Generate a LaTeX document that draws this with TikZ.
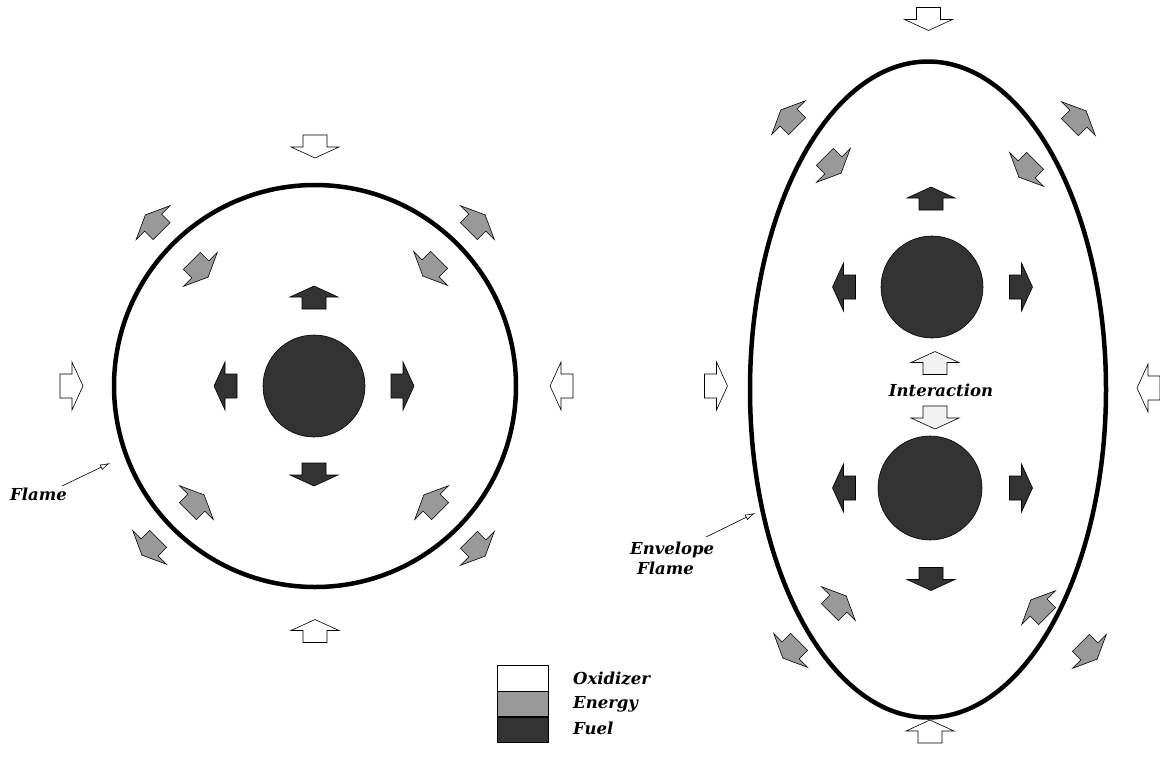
\documentclass[tikz,border=0pt]{standalone}
\usepackage{fontspec}
\setmainfont{DejaVu Serif}
\usetikzlibrary{arrows.meta}
\definecolor{fuelc}{HTML}{333333}
\definecolor{energyc}{HTML}{999999}
\definecolor{oxc}{HTML}{FFFFFF}
\definecolor{interc}{HTML}{F2F2F2}
\tikzset{
  arrowline/.style={draw=black, line width=0.6pt, line join=miter},
  blockarrow/.pic={
    \draw[arrowline, fill=#1] (-11.5,-12) -- (0.5,-12) -- (0.5,-24) -- (11.5,0) -- (0.5,24) -- (0.5,12) -- (-11.5,12) -- cycle;
  },
  flameline/.style={draw=black, line width=4.5pt},
  droplet/.style={draw=black, line width=0.6pt, fill=fuelc},
  lbl/.style={font=\bfseries\itshape\fontsize{16.5}{20}\selectfont, inner sep=0pt},
  pointer/.style={line width=0.6pt, -{Latex[open,length=10pt,width=6pt]}},
  legendbox/.style={draw=black, line width=0.6pt}
}
\begin{document}
\begin{tikzpicture}[x=1pt,y=-1pt]
\useasboundingbox (0,0) rectangle (1160,764);

% ---------------- left: single droplet ----------------
\draw[flameline] (315,386) circle[radius=201pt];
\node[droplet, circle, minimum size=102pt, inner sep=0pt] (drop) at (314,386) {};
% fuel
\pic[rotate=90]  at (314,297.5) {blockarrow=fuelc};
\pic[rotate=180] at (225.5,386) {blockarrow=fuelc};
\pic[rotate=0]   at (402.5,386) {blockarrow=fuelc};
\pic[rotate=270] at (314,474.5) {blockarrow=fuelc};
% oxidizer
\pic[rotate=270] at (315,146.5) {blockarrow=oxc};
\pic[rotate=90]  at (315,631)   {blockarrow=oxc};
\pic[rotate=0]   at (71.5,386)  {blockarrow=oxc};
\pic[rotate=180] at (561.5,386) {blockarrow=oxc};
% energy outer
\pic[rotate=135] at (153.5,223) {blockarrow=energyc};
\pic[rotate=45]  at (477,223)   {blockarrow=energyc};
\pic[rotate=225] at (150,547)   {blockarrow=energyc};
\pic[rotate=315] at (477,548)   {blockarrow=energyc};
% energy inner
\pic[rotate=315] at (200,269)   {blockarrow=energyc};
\pic[rotate=225] at (431,268)   {blockarrow=energyc};
\pic[rotate=45]  at (196,503)   {blockarrow=energyc};
\pic[rotate=135] at (432,503)   {blockarrow=energyc};

\node[lbl, anchor=west] (flame1) at (10,494) {Flame};
\coordinate (flame1tip) at (110,463);
\coordinate (flame1tail) at (62,486);
\draw[pointer] (flame1tail) -- (flame1tip);

% ---------------- right: two droplets ----------------
\draw[flameline] (928,389.5) ellipse [x radius=178pt, y radius=328pt];
\node[droplet, circle, minimum size=102pt, inner sep=0pt] (dropA) at (932,287) {};
\node[droplet, circle, minimum size=104pt, inner sep=0pt] (dropB) at (930,488) {};
% fuel
\pic[rotate=90]  at (931,198.5)  {blockarrow=fuelc};
\pic[rotate=180] at (844,287)    {blockarrow=fuelc};
\pic[rotate=0]   at (1021,287)   {blockarrow=fuelc};
\pic[rotate=180] at (844,488)    {blockarrow=fuelc};
\pic[rotate=0]   at (1021,488)   {blockarrow=fuelc};
\pic[rotate=270] at (931,579)    {blockarrow=fuelc};
% interaction
\pic[rotate=90]  at (935,363)    {blockarrow=interc};
\pic[rotate=270] at (935,417.5)  {blockarrow=interc};
\node[lbl] (inter) at (941,390) {Interaction};
% oxidizer
\pic[rotate=270] at (928.5,19)   {blockarrow=oxc};
\pic[rotate=90]  at (930,731.5)  {blockarrow=oxc};
\pic[rotate=0]   at (716,386)    {blockarrow=oxc};
\pic[rotate=180] at (1148.5,388) {blockarrow=oxc};
% energy outer
\pic[rotate=135] at (789,118)    {blockarrow=energyc};
\pic[rotate=45]  at (1078,119)   {blockarrow=energyc};
\pic[rotate=225] at (791,650)    {blockarrow=energyc};
\pic[rotate=315] at (1089,651)   {blockarrow=energyc};
% energy inner
\pic[rotate=315] at (833,165)    {blockarrow=energyc};
\pic[rotate=225] at (1027,169)   {blockarrow=energyc};
\pic[rotate=45]  at (838,604)    {blockarrow=energyc};
\pic[rotate=135] at (1039,608)   {blockarrow=energyc};

\node[lbl, align=left, anchor=north west] (flame2) at (630,542) {Envelope\\\hspace*{7pt}Flame};
\coordinate (flame2tip) at (755,513);
\coordinate (flame2tail) at (706,537);
\draw[pointer] (flame2tail) -- (flame2tip);

% ---------------- legend ----------------
\node[legendbox, fill=oxc, minimum width=51pt, minimum height=25.5pt, inner sep=0pt, anchor=north west] (legox) at (497,665) {};
\node[legendbox, fill=energyc, minimum width=51pt, minimum height=25pt, inner sep=0pt, anchor=north] (legen) at (legox.south) {};
\node[legendbox, fill=fuelc, minimum width=51pt, minimum height=25pt, inner sep=0pt, anchor=north] (legfu) at (legen.south) {};
\node[lbl, anchor=west] (txox) at (573,679) {Oxidizer};
\node[lbl, anchor=west] (txen) at (573,704) {Energy};
\node[lbl, anchor=west] (txfu) at (573,728) {Fuel};
\end{tikzpicture}
\end{document}
